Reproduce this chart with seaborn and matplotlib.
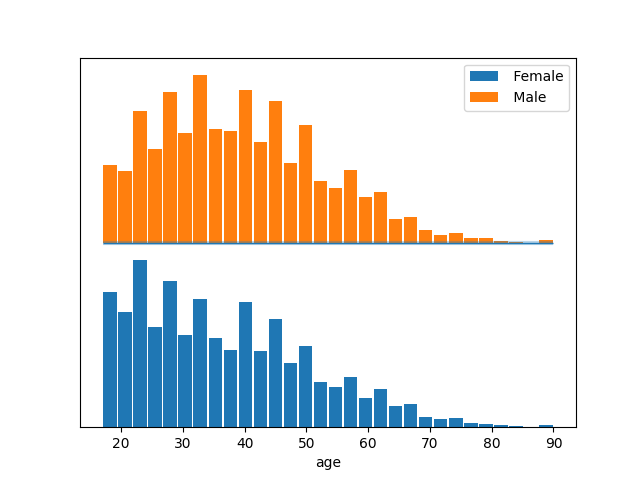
import matplotlib
matplotlib.use('Agg')
import matplotlib.pyplot as plt
import seaborn as sns
import numpy as np
import pandas as pd

# 30 age bins from 17 to 90
bin_edges = np.linspace(17, 90, 31)
bin_centers = (bin_edges[:-1] + bin_edges[1:]) / 2

female_counts = [135, 115, 167, 100, 146, 92, 128, 89, 77, 125,
                 76, 108, 64, 81, 45, 40, 50, 29, 38, 21,
                 23, 10, 8, 9, 4, 3, 2, 1, 0.3, 2]
male_counts = [78, 72, 132, 94, 151, 110, 168, 114, 112, 153,
               101, 142, 80, 118, 62, 55, 73, 46, 51, 24,
               26, 13, 8, 10, 5, 5, 2, 1, 0.3, 3]
male_offset = 184

df = pd.DataFrame({'age': bin_centers, 'female': female_counts, 'male': male_counts})

fig, ax = plt.subplots(figsize=(6.4, 4.8), dpi=100)

sns.histplot(data=df, x='age', weights='female', bins=list(bin_edges), shrink=0.9,
             color='#1f77b4', alpha=1, edgecolor='none', linewidth=0,
             label=' Female', ax=ax)

ax.bar(df['age'], df['male'], width=(bin_edges[1] - bin_edges[0]) * 0.9,
       bottom=male_offset, color='#ff7f0e', label=' Male')

ax.plot([bin_edges[0], bin_edges[-1]], [male_offset, male_offset],
        color='#1f77b4', lw=3, alpha=0.3, solid_capstyle='butt')
ax.plot([bin_edges[0], bin_edges[-1]], [male_offset, male_offset],
        color='#1f77b4', lw=1, solid_capstyle='butt')

ax.set_ylim(0, 369)
ax.set_yticks([])
ax.set_ylabel('')
ax.set_xlabel('age')
ax.legend(loc='upper right')

plt.savefig('out.png', dpi=100)
